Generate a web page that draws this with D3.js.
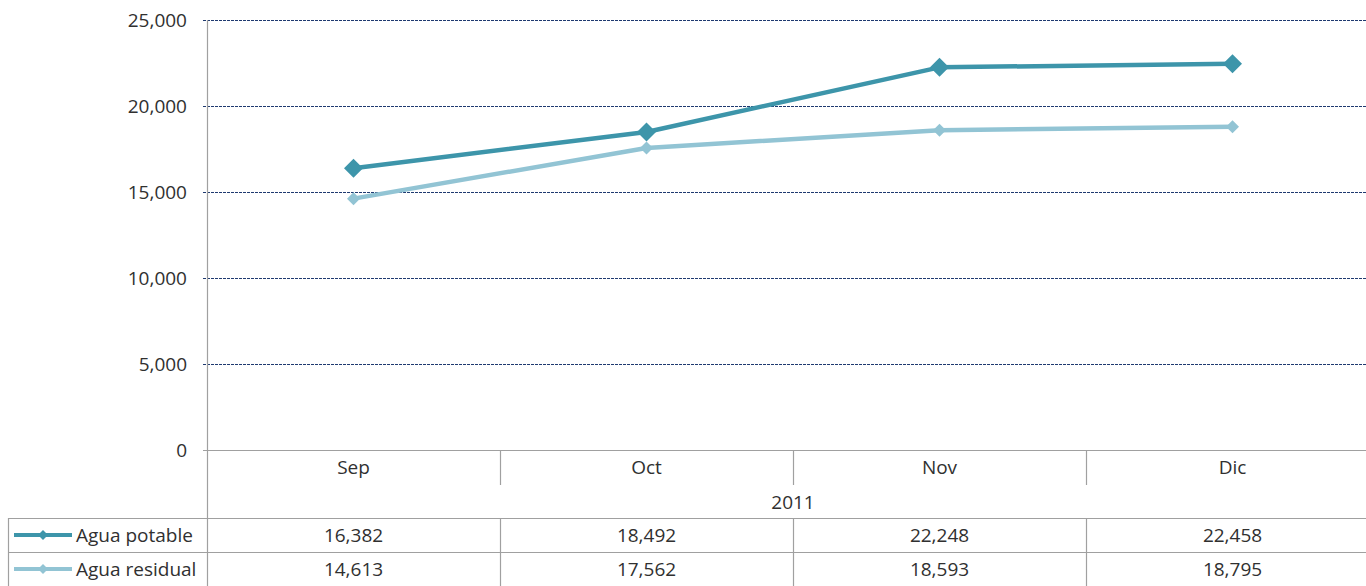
<!DOCTYPE html>
<html>
<head>
<meta charset="utf-8">
<script src="https://cdn.jsdelivr.net/npm/d3@7"></script>
<style>
  html, body { margin: 0; padding: 0; background: #fff; overflow: hidden; }
  text { font-family: "Open Sans", Lato, sans-serif; fill: #303030; }
</style>
</head>
<body>
<svg id="chart" width="1366" height="586"></svg>
<script>
const months = ['Sep', 'Oct', 'Nov', 'Dic'];
const year = '2011';
const potable = [16382, 18492, 22248, 22458];
const residual = [14613, 17562, 18593, 18795];
const seriesNames = ['Agua potable', 'Agua residual'];
const yTicks = [0, 5000, 10000, 15000, 20000, 25000];

const series = [
    { name: seriesNames[0], values: potable, color: '#3d95aa', marker: 9.5 },
    { name: seriesNames[1], values: residual, color: '#92c4d4', marker: 6.5 }
];

const plot = { left: 207, right: 1379, top: 20, bottom: 450 };
const table = { left: 8, top: 518, row: 34 };
const fontSize = '19px';

const svg = d3.select('#chart');

const x = d3.scaleBand()
    .domain(months)
    .range([plot.left, plot.right]);

const y = d3.scaleLinear()
    .domain([0, 25000])
    .range([plot.bottom, plot.top]);

const fmt = d3.format(',');

// grid lines
svg.append('g')
    .selectAll('line')
    .data(yTicks.filter(d => d > 0))
    .join('line')
    .attr('x1', plot.left - 4)
    .attr('x2', plot.right)
    .attr('y1', d => Math.round(y(d)) + 0.5)
    .attr('y2', d => Math.round(y(d)) + 0.5)
    .attr('stroke', '#1f3a70')
    .attr('stroke-width', 1)
    .attr('stroke-dasharray', '3,1');

// y labels
svg.append('g')
    .selectAll('text')
    .data(yTicks)
    .join('text')
    .attr('x', 187)
    .attr('y', d => y(d))
    .attr('dy', '0.35em')
    .attr('text-anchor', 'end')
    .style('font-size', fontSize)
    .text(d => fmt(d));

const grey = '#a0a0a0';
const frame = svg.append('g').attr('stroke', grey).attr('stroke-width', 1.2);

// vertical axis down through table
frame.append('line')
    .attr('x1', plot.left + 0.5).attr('x2', plot.left + 0.5)
    .attr('y1', plot.top).attr('y2', 586);
// base line
frame.append('line')
    .attr('x1', plot.left - 4).attr('x2', plot.right)
    .attr('y1', plot.bottom + 0.5).attr('y2', plot.bottom + 0.5);
// category dividers in header
frame.selectAll('.div')
    .data(months.slice(1))
    .join('line')
    .attr('x1', d => Math.round(x(d)) + 0.5).attr('x2', d => Math.round(x(d)) + 0.5)
    .attr('y1', plot.bottom).attr('y2', plot.bottom + 35);
// table rows
[0, 1].forEach(i => {
    frame.append('line')
        .attr('x1', table.left).attr('x2', plot.right)
        .attr('y1', table.top + i * table.row + 0.5).attr('y2', table.top + i * table.row + 0.5);
});
frame.append('line')
    .attr('x1', table.left + 0.5).attr('x2', table.left + 0.5)
    .attr('y1', table.top).attr('y2', 586);
frame.selectAll('.tdiv')
    .data(months.slice(1))
    .join('line')
    .attr('x1', d => Math.round(x(d)) + 0.5).attr('x2', d => Math.round(x(d)) + 0.5)
    .attr('y1', table.top).attr('y2', 586);

// month labels
svg.append('g')
    .selectAll('text')
    .data(months)
    .join('text')
    .attr('x', d => x(d) + x.bandwidth() / 2)
    .attr('y', plot.bottom + 17)
    .attr('dy', '0.35em')
    .attr('text-anchor', 'middle')
    .style('font-size', fontSize)
    .text(d => d);

svg.append('text')
    .attr('x', (x('Oct') + x('Nov') + x.bandwidth()) / 2)
    .attr('y', 502)
    .attr('dy', '0.35em')
    .attr('text-anchor', 'middle')
    .style('font-size', fontSize)
    .text(year);

const diamond = r => `M0,${-r}L${r},0L0,${r}L${-r},0Z`;

// lines (light series below dark)
const line = d3.line()
    .x((d, i) => x(months[i]) + x.bandwidth() / 2)
    .y(d => y(d));

const sg = svg.append('g')
    .selectAll('g')
    .data(series.slice().reverse())
    .join('g');

sg.append('path')
    .attr('d', d => line(d.values))
    .attr('fill', 'none')
    .attr('stroke', d => d.color)
    .attr('stroke-width', 4.5)
    .attr('stroke-linejoin', 'round');

sg.selectAll('path.m')
    .data(d => d.values.map((v, i) => ({ v, i, s: d })))
    .join('path')
    .attr('class', 'm')
    .attr('transform', d => `translate(${x(months[d.i]) + x.bandwidth() / 2},${y(d.v)})`)
    .attr('d', d => diamond(d.s.marker))
    .attr('fill', d => d.s.color);

// data table rows
series.forEach((s, r) => {
    const cy = table.top + r * table.row + table.row / 2;
    const g = svg.append('g');
    g.append('line')
        .attr('x1', 14).attr('x2', 72)
        .attr('y1', cy).attr('y2', cy)
        .attr('stroke', s.color).attr('stroke-width', 4);
    g.append('path')
        .attr('transform', `translate(43,${cy})`)
        .attr('d', diamond(5))
        .attr('fill', s.color);
    g.append('text')
        .attr('x', 76).attr('y', cy)
        .attr('dy', '0.35em')
        .style('font-size', fontSize)
        .text(s.name);
    g.selectAll('text.v')
        .data(s.values)
        .join('text')
        .attr('class', 'v')
        .attr('x', (d, i) => x(months[i]) + x.bandwidth() / 2)
        .attr('y', cy)
        .attr('dy', '0.35em')
        .attr('text-anchor', 'middle')
        .style('font-size', fontSize)
        .text(d => fmt(d));
});
</script>
</body>
</html>
